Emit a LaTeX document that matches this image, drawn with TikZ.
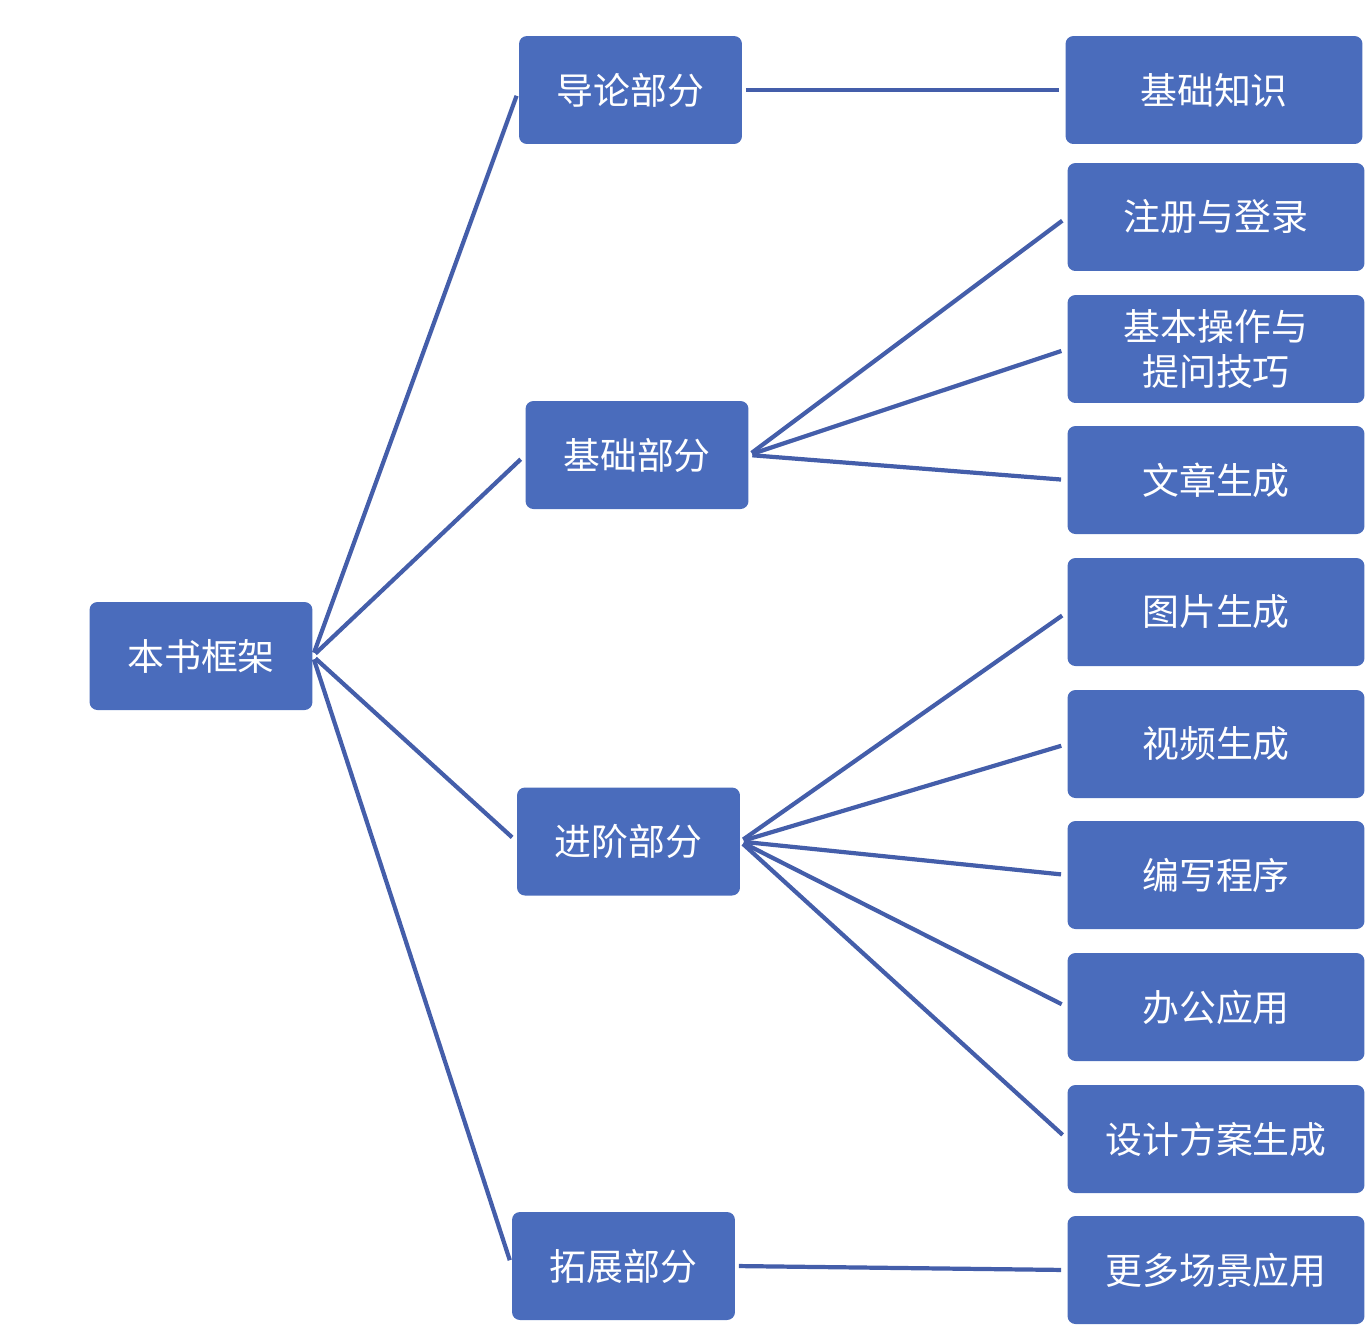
\documentclass[tikz,border=0pt]{standalone}
\usepackage{fontspec}
\newfontfamily\cjk{Noto Sans CJK SC}
\definecolor{boxblue}{RGB}{74,108,188}
\definecolor{lineblue}{RGB}{68,94,170}

\begin{document}
\begin{tikzpicture}[x=0.02cm,y=-0.02cm,
    box/.style={fill=boxblue,rounded corners=4.5pt,text=white,
        font=\cjk\fontsize{21}{25.5}\selectfont,align=center,
        minimum height=2.16cm,inner sep=0pt},
    midbox/.style={box,minimum width=4.46cm},
    leafbox/.style={box,minimum width=5.94cm},
    link/.style={lineblue,line width=2.4pt,shorten <=2pt,shorten >=3.5pt}]
    \useasboundingbox (0,0) rectangle (1372,1336);
    % root and the four parts
    \node[midbox] (root) at (201,656) {本书框架};
    \node[midbox] (intro) at (630.5,90) {导论部分};
    \node[midbox] (basic) at (637,455) {基础部分};
    \node[midbox] (adv) at (628.5,841.5) {进阶部分};
    \node[midbox] (ext) at (623.5,1266) {拓展部分};
    % chapters
    \node[leafbox] (know) at (1214,90) {基础知识};
    \node[leafbox] (reg) at (1216,217) {注册与登录};
    \node[leafbox] (ops) at (1216,349) {基本操作与\\提问技巧};
    \node[leafbox] (art) at (1216,480) {文章生成};
    \node[leafbox] (pic) at (1216,612) {图片生成};
    \node[leafbox] (vid) at (1216,744) {视频生成};
    \node[leafbox] (code) at (1216,875) {编写程序};
    \node[leafbox] (office) at (1216,1007) {办公应用};
    \node[leafbox] (design) at (1216,1139) {设计方案生成};
    \node[leafbox] (more) at (1216,1270) {更多场景应用};
    % links from the root
    \foreach \p in {intro,basic,adv,ext}
        \draw[link] (root.east) -- (\p.west);
    % links to the chapters
    \draw[link] (intro.east) -- (know.west);
    \foreach \c in {reg,ops,art}
        \draw[link] (basic.east) -- (\c.west);
    \foreach \c in {pic,vid,code,office,design}
        \draw[link] (adv.east) -- (\c.west);
    \draw[link] (ext.east) -- (more.west);
\end{tikzpicture}
\end{document}
